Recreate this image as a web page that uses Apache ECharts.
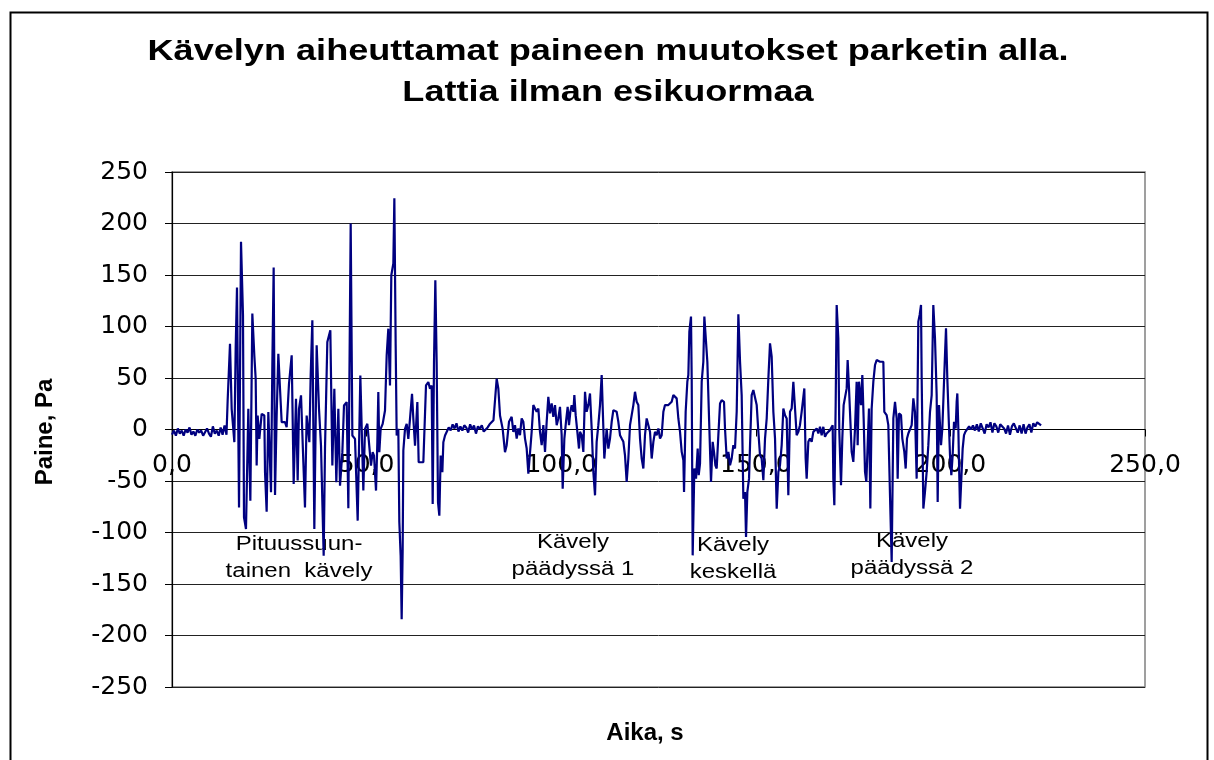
<!DOCTYPE html>
<html>
<head>
<meta charset="utf-8">
<script src="https://cdn.jsdelivr.net/npm/echarts@6/dist/echarts.min.js"></script>
<style>
html,body{margin:0;padding:0;background:#fff;}
#chart{width:1214px;height:760px;}
</style>
</head>
<body>
<div id="chart"></div>
<script>
// ---- DATA (time s, pressure Pa) ----
const quietStart = [[0,-5],[0.5,-1],[1,-6],[1.5,1],[2,-4],[2.5,-1],[3,-6],[3.5,0],[4,-3],[4.5,2],[5,-5],[5.5,-2],[6,-6],[6.5,0],[7,-3],[7.5,-1],[8,-6],[8.5,-5],[9,1],[9.5,-4],[10,-7],[10.5,3],[11,-4],[11.5,-1],[12,-6],[12.5,2],[13,-5],[13.5,4],[14,-5]];
const walkLengthwise = [[14.30,28.2],[14.90,83.3],[15.33,20.1],[16.02,-12.3],[16.36,78.5],[16.70,137.8],[17.22,-75.6],[17.73,182.2],[18.24,110.9],[18.50,-85.3],[19.01,-96.6],[19.61,20.1],[19.95,20.1],[20.13,-69.1],[20.64,112.5],[21.15,72.0],[21.50,49.3],[21.75,-35.0],[22.01,13.6],[22.44,-9.1],[23.04,15.2],[23.72,13.6],[23.90,-41.5],[24.32,-79.8],[24.75,16.9],[25.18,16.9],[25.44,-61.0],[25.78,62.3],[26.12,157.3],[26.47,-63.6],[26.89,13.6],[27.32,73.6],[27.75,39.6],[28.18,7.1],[29.03,7.1],[29.46,2.3],[30.06,44.4],[30.75,72.0],[31.26,-52.9],[31.86,29.8],[32.29,-49.6],[32.63,20.1],[33.15,33.1],[33.75,-31.8],[34.17,-75.6],[34.60,13.6],[35.29,-12.3],[35.63,52.5],[36.06,106.0],[36.57,-96.6],[37.17,81.7],[37.77,20.1],[38.28,-15.6],[38.97,-122.6],[39.31,-18.8],[39.91,85.0],[40.68,96.3],[41.20,-35.0],[41.71,39.6],[42.22,-51.2],[42.74,20.1],[43.17,-54.5],[43.77,-22.0],[44.19,23.3],[44.88,26.6],[45.31,-76.5],[45.91,200.1],[46.34,-5.8],[47.02,-9.1],[47.71,-88.5],[48.39,52.5],[49.16,-59.3],[49.59,0.6],[50.19,5.5],[50.70,3.9],[51.13,-35.0],[51.56,-22.0],[51.90,-25.3],[52.42,-59.3],[52.76,-12.3],[53.01,36.3],[53.27,-22.0],[53.61,0.6],[54.13,5.5],[54.73,18.5],[55.16,72.0],[55.58,97.9],[56.01,42.8],[56.35,149.8],[56.87,161.2],[57.13,224.4],[57.47,81.7],[57.73,-5.8],[58.15,0.6],[58.41,-90.1],[58.75,-122.6],[59.01,-184.2],[59.27,-116.1],[59.44,-20.4],[59.87,0.6],[60.30,5.5],[60.72,-9.1],[61.15,10.4],[61.67,34.7],[62.01,10.4],[62.44,-15.6],[63.04,26.6],[63.38,-31.8],[64.58,-31.8],[65.26,42.8],[65.86,46.0],[66.29,39.6],[66.72,42.8],[66.98,-72.3],[67.32,65.5],[67.66,144.9],[68.00,65.5],[68.35,-70.7],[68.69,-83.7],[69.03,-25.3],[69.46,-41.5],[69.72,-12.3],[70.15,-5.8]];
const quietMiddle = [[70.6,-4],[71.1,2],[71.6,-1],[72.1,5],[72.6,1],[73.1,6],[73.6,-2],[74.1,3],[74.6,-1],[75.1,4],[75.6,2],[76.1,-3],[76.6,5],[77.1,0],[77.6,4],[78.1,-4],[78.6,3],[79.1,1],[79.6,4],[80.1,-2],[80.6,-2],[81.1,2],[81.6,5],[82.1,6],[82.6,9],[83.0,8]];
const walkEnd1 = [[83.42,49.3],[83.85,39.6],[84.28,13.6],[84.96,0.6],[85.56,-22.0],[85.99,-15.2],[86.59,7.5],[87.27,12.3],[87.70,-2.3],[88.13,4.2],[88.56,-8.8],[88.99,1.0],[89.41,-5.5],[89.84,10.7],[90.27,7.5],[90.70,-8.8],[91.13,-18.5],[91.56,-42.8],[91.98,-44.4],[92.41,-2.3],[92.84,23.7],[93.27,20.4],[93.70,17.2],[94.13,20.4],[94.55,-2.3],[94.98,-15.2],[95.41,4.2],[95.84,-21.7],[96.27,7.5],[96.69,31.8],[97.12,15.6],[97.55,25.3],[97.98,12.3],[98.41,23.7],[98.84,4.2],[99.26,10.7],[99.69,22.0],[100.12,-5.5],[100.38,-57.4],[100.81,-8.8],[101.23,7.5],[101.66,22.0],[102.00,4.2],[102.35,17.2],[102.69,23.7],[103.12,17.2],[103.38,33.4],[103.72,13.9],[104.23,-5.5],[104.57,-18.5],[104.83,-2.3],[105.26,-5.5],[105.69,-21.7],[106.12,36.6],[106.54,17.2],[106.97,23.7],[107.40,35.0],[107.83,1.0],[108.26,-41.2],[108.69,-63.9],[109.11,-12.0],[109.54,4.2],[109.97,23.7],[110.40,52.9],[110.91,52.9],[111.08,-28.2],[111.68,1.0],[112.11,-18.5],[112.54,-8.8],[112.97,7.5],[113.40,18.8],[113.82,18.8],[114.25,17.2],[114.68,7.5],[115.11,-5.5],[115.54,-8.8],[115.97,-12.0],[116.39,-25.0],[116.82,-50.9],[117.25,-28.2],[117.68,4.2],[118.11,13.9],[118.54,23.7],[118.96,36.6],[119.39,26.9],[119.82,23.7],[120.25,-8.8],[120.68,-28.2],[121.11,-37.9],[121.53,-5.5],[121.96,10.7],[122.82,-2.3],[123.25,-28.2],[123.68,-12.0],[124.10,-2.3],[124.53,-5.5],[124.96,1.0],[125.39,-8.8],[125.82,-5.5],[126.25,17.2],[126.67,23.7],[127.10,22.0],[127.53,23.7],[127.96,23.7],[128.39,26.9],[128.82,33.4],[129.24,35.0],[129.67,30.2],[130.10,10.7],[130.53,-2.3],[130.96,-21.7],[131.39,-29.8],[131.56,-60.6]];
const walkMiddle = [[131.98,17.2],[132.41,46.4],[132.67,52.9],[132.93,95.0],[133.35,109.6],[133.53,49.6],[133.78,-122.2],[134.21,-37.9],[134.64,-47.7],[135.07,-18.5],[135.33,-44.4],[135.67,-33.1],[136.10,46.4],[136.52,65.8],[136.78,109.6],[137.21,109.6],[137.55,65.8],[138.07,1.0],[138.49,-50.9],[138.92,-12.0],[139.26,-21.7],[139.61,-34.7],[139.95,-37.9],[140.38,-5.5],[140.81,25.3],[141.23,28.5],[141.83,26.9],[142.09,1.0],[142.52,-28.2],[142.95,-21.7],[143.38,-34.7],[143.80,-28.2],[144.23,-15.2],[144.66,-18.5],[145.09,17.2],[145.52,111.9],[145.95,65.8],[146.37,33.4],[146.80,-67.1],[147.23,-60.6],[147.49,-104.4],[147.83,-60.6],[148.26,-47.7],[148.52,-15.2],[148.94,33.4],[149.37,38.3],[149.80,36.6],[150.23,23.7],[150.66,-2.3],[151.08,-25.0],[151.51,-28.2],[151.94,-49.3],[152.37,-8.8],[152.80,10.7],[153.23,49.6],[153.65,83.7],[154.08,70.7],[154.51,17.2],[154.94,-8.8],[155.37,-76.8],[155.80,-41.2],[156.22,-34.7],[156.65,-15.2],[157.08,20.4],[157.51,13.9],[157.94,10.7],[158.36,-63.9],[158.79,17.2],[159.22,20.4],[159.65,46.4],[160.50,-5.5],[160.93,-2.3],[161.35,4.2],[161.78,17.2],[162.21,17.2],[162.47,39.9],[162.81,-28.2],[163.07,-47.7],[163.50,-12.0],[163.92,-8.8],[164.35,-12.0],[164.78,-2.3],[165.21,-3.9],[165.64,1.0],[166.07,-3.9],[166.49,2.6],[166.92,-5.5],[167.35,2.6],[167.78,-7.1],[168.21,-3.9],[168.64,-3.9],[169.06,-0.6],[169.49,1.0],[169.75,4.2]];
const walkEnd2 = [[169.92,-47.7],[170.18,-73.6],[170.52,23.7],[170.78,120.9],[171.20,88.5],[171.46,-2.3],[171.89,-54.1],[172.23,-8.8],[172.57,23.7],[172.92,23.7],[173.35,39.9],[173.60,67.4],[173.95,39.9],[174.29,39.9],[174.63,-21.7],[175.06,-31.5],[175.49,1.0],[175.91,46.4],[176.17,-15.2],[176.51,46.4],[177.03,23.7],[177.37,52.9],[177.71,10.7],[178.06,-41.2],[178.40,-50.9],[178.74,-15.2],[179.08,20.4],[179.43,-76.8],[179.77,20.4],[180.20,46.4],[180.63,62.6],[181.05,67.4],[181.91,65.8],[182.77,65.8],[183.02,17.2],[183.62,13.9],[184.05,4.2],[184.48,-63.9],[184.91,-128.7],[185.34,10.7],[185.77,26.9],[186.19,10.7],[186.45,-47.7],[186.79,15.6],[187.31,13.9],[187.65,-8.8],[188.16,-21.7],[188.51,-37.9],[188.85,-8.8],[189.19,-3.9],[189.62,-5.5],[190.05,4.2],[190.48,30.2],[190.90,17.2],[191.33,-47.7],[191.76,104.7],[192.10,111.2],[192.45,120.9],[192.62,49.6],[193.05,-76.8],[193.47,-60.6],[193.90,-41.2],[194.33,-15.2],[194.76,17.2],[195.19,33.4],[195.61,120.9],[196.04,88.5],[196.47,33.4],[196.73,-70.4],[197.07,23.7],[197.59,-15.2],[197.93,1.0],[198.61,72.3],[198.87,98.2],[199.21,49.6],[199.56,10.7],[199.90,-25.0],[200.24,-44.4],[200.58,-25.0],[200.93,7.5],[201.36,1.0],[201.61,26.9],[201.78,35.0],[202.04,1.0],[202.30,-47.7],[202.47,-76.8],[202.81,-47.7],[203.15,-18.5],[203.50,-5.5],[203.84,-2.3]];
const quietEnd = [[204.3,-3],[204.8,3],[205.3,0],[205.8,4],[206.3,-1],[206.8,5],[207.3,-2],[207.8,6],[208.3,1],[208.8,-4],[209.3,5],[209.8,2],[210.3,7],[210.8,-3],[211.3,6],[211.8,3],[212.3,-3],[212.8,5],[213.3,6],[213.8,1],[214.3,-4],[214.8,4],[215.3,-5],[215.8,3],[216.3,6],[216.8,5],[217.3,-3],[217.8,4],[218.3,-4],[218.8,5],[219.3,-4],[219.8,2],[220.3,5],[220.8,-3],[221.3,6],[221.8,3],[222.3,7],[222.8,6],[223.3,4]];

const titleLines = ['Kävelyn aiheuttamat paineen muutokset parketin alla.', 'Lattia ilman esikuormaa'];
const xAxisTitle = 'Aika, s';
const yAxisTitle = 'Paine, Pa';
const annotations = ['Pituussuun-\ntainen  kävely', 'Kävely\npäädyssä 1', 'Kävely\nkeskellä', 'Kävely\npäädyssä 2'];

const allData = [].concat(quietStart, walkLengthwise, quietMiddle, walkEnd1, walkMiddle, walkEnd2, quietEnd);

const FONT = '"Liberation Sans", Arial, Helvetica, sans-serif';
const TICKFONT = '"DejaVu Sans", "Liberation Sans", sans-serif';
const chart = echarts.init(document.getElementById('chart'), null, {renderer: 'canvas'});

const annotPos = [[299, 531], [573, 529], [733, 532], [912, 528]];
const titleY = [52, 93];

chart.setOption({
  animation: false,
  backgroundColor: '#ffffff',
  grid: {left: 172, right: 69, top: 172, bottom: 73, show: true, borderColor: '#808080', borderWidth: 1.5, backgroundColor: 'transparent'},
  xAxis: {
    type: 'value', min: 0, max: 250, interval: 50,
    offset: -257.5,
    axisLine: {show: true, onZero: false, lineStyle: {color: '#000', width: 1.2}},
    axisTick: {show: true, inside: false, length: 7, lineStyle: {color: '#000'}},
    axisLabel: {margin: 23, fontFamily: TICKFONT, fontSize: 25, color: '#000',
      formatter: v => v.toFixed(1).replace('.', ',')},
    splitLine: {show: false}
  },
  yAxis: {
    type: 'value', min: -250, max: 250, interval: 50,
    axisLine: {show: true, onZero: false, lineStyle: {color: '#000', width: 1.2}},
    axisTick: {show: true, length: 7, lineStyle: {color: '#000'}},
    axisLabel: {margin: 24, fontFamily: TICKFONT, fontSize: 25, color: '#000'},
    splitLine: {show: true, lineStyle: {color: '#222', width: 1}}
  },
  graphic: [
    {type: 'rect', left: 8, top: 10, shape: {width: 1197, height: 770}, style: {fill: 'none', stroke: '#000', lineWidth: 2}, silent: true, z: -1},
    {type: 'text', x: 645, y: 733, style: {text: xAxisTitle, font: 'bold 24px ' + FONT, fill: '#000', align: 'center', verticalAlign: 'middle'}},
    {type: 'text', x: 45, y: 432, rotation: Math.PI / 2, style: {text: yAxisTitle, font: 'bold 24px ' + FONT, fill: '#000', align: 'center', verticalAlign: 'middle'}}
  ].concat(titleLines.map((t, i) => ({
    type: 'text', x: 608, y: titleY[i], scaleX: 1.245,
    style: {text: t, font: 'bold 29px ' + FONT, fill: '#000', align: 'center', verticalAlign: 'middle'}
  }))).concat(annotations.map((t, i) => ({
    type: 'text', x: annotPos[i][0], y: annotPos[i][1], scaleX: 1.2,
    style: {text: t, font: '20px ' + FONT, fill: '#000', align: 'center', verticalAlign: 'top', lineHeight: 27}
  }))),
  series: [{
    type: 'line',
    data: allData,
    showSymbol: false,
    symbol: 'none',
    lineStyle: {color: '#000080', width: 2.2},
    z: 3
  }]
});
</script>
</body>
</html>
